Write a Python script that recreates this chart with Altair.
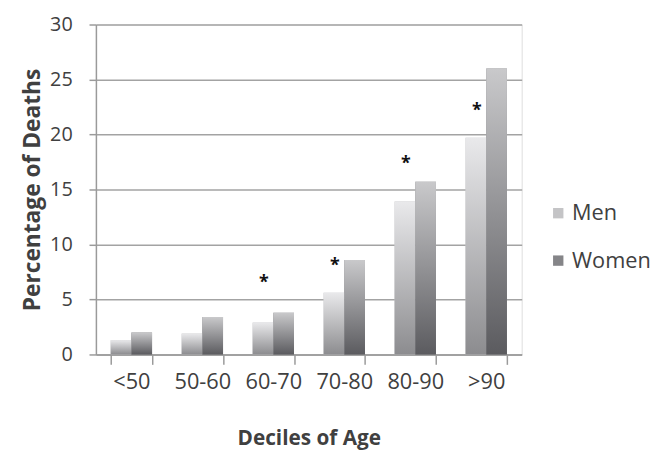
import altair as alt
import pandas as pd

ages = ["<50", "50-60", "60-70", "70-80", "80-90", ">90"]
men = [1.3, 1.9, 2.9, 5.6, 13.9, 19.7]
women = [2.0, 3.4, 3.8, 8.6, 15.7, 26.0]
sig_ages = ["60-70", "70-80", "80-90", ">90"]
sig_y = [6.8, 8.3, 17.6, 22.4]
series = ["Men", "Women"]

rows = []
for a, m, w in zip(ages, men, women):
    rows.append({"age": a, "sex": "Men", "pct": m})
    rows.append({"age": a, "sex": "Women", "pct": w})
df = pd.DataFrame(rows)
sig = pd.DataFrame({"age": sig_ages, "sex": ["Men"] * len(sig_ages), "pct": sig_y, "t": ["*"] * len(sig_ages)})

FONT = "Open Sans"
TXT = "#404040"

xenc = alt.X("age:N", sort=ages,
             scale=alt.Scale(paddingInner=0.417, paddingOuter=0.208),
             axis=alt.Axis(title="Deciles of Age", labelAngle=0, tickBand="extent",
                           tickSize=10, labelPadding=7, titlePadding=36,
                           domainColor="#9a9a9a", tickColor="#9a9a9a",
                           domainWidth=1.5, tickWidth=1.5,
                           labelFontSize=22, titleFontSize=21, labelColor=TXT, titleColor=TXT,
                           titleFontWeight="bold", labelFont=FONT, titleFont=FONT))
yenc = alt.Y("pct:Q", scale=alt.Scale(domain=[0, 30]),
             axis=alt.Axis(title="Percentage of Deaths", values=[0, 5, 10, 15, 20, 25, 30],
                           tickSize=7, labelPadding=17, titlePadding=5,
                           grid=True, gridColor="#a3a3a3", gridWidth=1.5,
                           domainColor="#9a9a9a", tickColor="#9a9a9a",
                           domainWidth=1.5, tickWidth=1.5,
                           labelFontSize=20, titleFontSize=23, labelColor=TXT, titleColor=TXT,
                           titleFontWeight="bold", labelFont=FONT, titleFont=FONT))
xoff = alt.XOffset("sex:N", sort=series, scale=alt.Scale(paddingInner=0, paddingOuter=0))

base = alt.Chart(df)

legend_bars = base.mark_bar().encode(
    x=xenc, y=yenc, xOffset=xoff,
    color=alt.Color("sex:N", sort=series,
                    scale=alt.Scale(domain=series, range=["#c4c4c6", "#858588"]),
                    legend=alt.Legend(title=None, orient="none", legendX=457, legendY=180,
                                      symbolType="square", symbolSize=110,
                                      labelFontSize=22, labelFont=FONT, labelColor=TXT,
                                      rowPadding=26, symbolOffset=0, labelOffset=3))
)

men_grad = alt.Gradient(gradient="linear", x1=0, x2=0, y1=0, y2=1,
                        stops=[alt.GradientStop(color="#e9e9eb", offset=0),
                               alt.GradientStop(color="#8c8c8f", offset=1)])
women_grad = alt.Gradient(gradient="linear", x1=0, x2=0, y1=0, y2=1,
                          stops=[alt.GradientStop(color="#c9c9cb", offset=0),
                                 alt.GradientStop(color="#5b5b5f", offset=1)])

men_bars = base.mark_bar(fill=men_grad).encode(x=xenc, y=yenc, xOffset=xoff).transform_filter(
    alt.datum.sex == "Men")
women_bars = base.mark_bar(fill=women_grad).encode(x=xenc, y=yenc, xOffset=xoff).transform_filter(
    alt.datum.sex == "Women")

stars = alt.Chart(sig).mark_text(fontSize=18, fontWeight="bold", color="#111111",
                                 baseline="middle", dy=3, dx=1, font=FONT).encode(
    x=xenc, y=yenc, xOffset=xoff, text="t:N")

chart = alt.layer(legend_bars, men_bars, women_bars, stars).properties(
    width=431, height=334,
    autosize=alt.AutoSizeParams(type="none"),
    padding={"left": 89, "top": 14, "right": 139, "bottom": 95},
).configure_view(stroke=None).configure(background="white")

chart.save("out.html", embed_options={"renderer": "svg", "actions": False})
